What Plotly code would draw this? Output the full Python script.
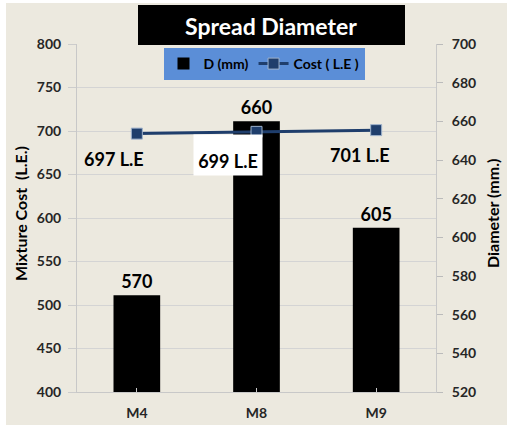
import plotly.graph_objects as go

categories = ["M4", "M8", "M9"]
diameter_mm = [570, 660, 605]
cost_le = [697, 699, 701]
cost_labels = ["697 L.E", "699 L.E", "701 L.E"]

FONT = "Lato, 'Open Sans', sans-serif"
BEIGE = "#ECE9DF"
NAVY = "#1F3E6C"

# plot area in px
L, R, T, B = 77, 436, 44, 392
W, H = 508, 426
pw, ph = R - L, B - T

def px_x(p):
    return (p - L) / pw

def px_y(p):
    return (B - p) / ph

fig = go.Figure()

fig.add_trace(go.Bar(
    x=categories, y=diameter_mm, name="<b>D (mm)</b>",
    marker=dict(color="black", line=dict(width=0)),
    width=0.39,
    text=[f"<b>{v}</b>" for v in diameter_mm],
    textposition="outside", cliponaxis=False,
    textfont=dict(family=FONT, size=18, color="black"),
    yaxis="y",
))

fig.add_trace(go.Scatter(
    x=categories, y=cost_le, name="<b>Cost ( L.E )</b>",
    mode="lines+markers",
    line=dict(color=NAVY, width=3),
    marker=dict(symbol="square", size=11, color=NAVY,
                line=dict(color="#9FB3CC", width=1)),
    yaxis="y2",
))

annotations = []
# label placement (style only)
label_style = [
    dict(xshift=-23, yshift=-25, bgcolor="rgba(255,255,255,0)", borderpad=5),
    dict(xshift=-29, yshift=-23, bgcolor="white", borderpad=3,
         width=62, height=34, valign="bottom"),
    dict(xshift=-16, yshift=-25, bgcolor="rgba(255,255,255,0)", borderpad=5),
]
for cat, val, lab, st in zip(categories, cost_le, cost_labels, label_style):
    annotations.append(dict(
        x=cat, y=val, xref="x", yref="y2", text=f"<b>{lab}</b>",
        showarrow=False, xanchor="center", yanchor="middle",
        font=dict(family=FONT, size=18, color="black"), **st,
    ))

annotations += [
    dict(x=px_x(271), y=px_y(26), xref="paper", yref="paper",
         xanchor="center", yanchor="middle",
         text="<b>Spread Diameter</b>", showarrow=False,
         font=dict(family=FONT, size=23, color="white")),
    dict(x=px_x(20), y=px_y(214), xref="paper", yref="paper",
         xanchor="center", yanchor="middle",
         text="<b>Mixture Cost  (L.E.)</b>", showarrow=False, textangle=-90,
         font=dict(family=FONT, size=16, color="black")),
    dict(x=px_x(492), y=px_y(214), xref="paper", yref="paper",
         xanchor="center", yanchor="middle",
         text="<b>Diameter (mm.)</b>", showarrow=False, textangle=-90,
         font=dict(family=FONT, size=16, color="black")),
]

shapes = [
    dict(type="rect", xref="paper", yref="paper", layer="below",
         x0=px_x(6), x1=px_x(507), y0=px_y(425), y1=px_y(3),
         fillcolor=BEIGE, line=dict(width=0)),
    dict(type="rect", xref="paper", yref="paper", layer="above",
         x0=px_x(138), x1=px_x(405), y0=px_y(45), y1=px_y(5),
         fillcolor="black", line=dict(width=0)),
]

tickfont = dict(family=FONT, size=14, color="#262626", weight="bold")

fig.update_layout(
    width=W, height=H,
    margin=dict(l=L, r=W - R, t=T, b=H - B, autoexpand=False),
    paper_bgcolor="white", plot_bgcolor="white",
    font=dict(family=FONT, size=13, color="#222"),
    showlegend=True,
    legend=dict(orientation="h", x=px_x(264), xanchor="center",
                y=px_y(48), yanchor="top",
                bgcolor="#5B8ED7", borderwidth=0,
                font=dict(family=FONT, size=14, color="black"),
                itemwidth=30, tracegroupgap=0),
    xaxis=dict(showline=True, linecolor="#C8C8C8", linewidth=1,
               ticks="inside", ticklen=4, tickcolor="#C8C8C8",
               tickfont=tickfont, ticklabelstandoff=8,
               showgrid=False),
    yaxis=dict(range=[520, 700], dtick=20, side="right",
               showgrid=False, showline=True, linecolor="#C8C8C8",
               ticks="outside", ticklen=6, tickcolor="#BBBBBB",
               tickfont=tickfont, ticklabelstandoff=6,
               zeroline=False),
    yaxis2=dict(range=[400, 800], dtick=50, side="left", overlaying="y",
                showgrid=True, gridcolor="#D4D4D4", gridwidth=1,
                showline=True, linecolor="#C8C8C8",
                ticks="outside", ticklen=8, tickcolor="#CCCCCC",
                tickfont=tickfont, ticklabelstandoff=4,
                zeroline=False),
    annotations=annotations,
    shapes=shapes,
)

fig.write_html("out.html", config={"displayModeBar": False},
               post_script="document.body.style.margin='0px';")
